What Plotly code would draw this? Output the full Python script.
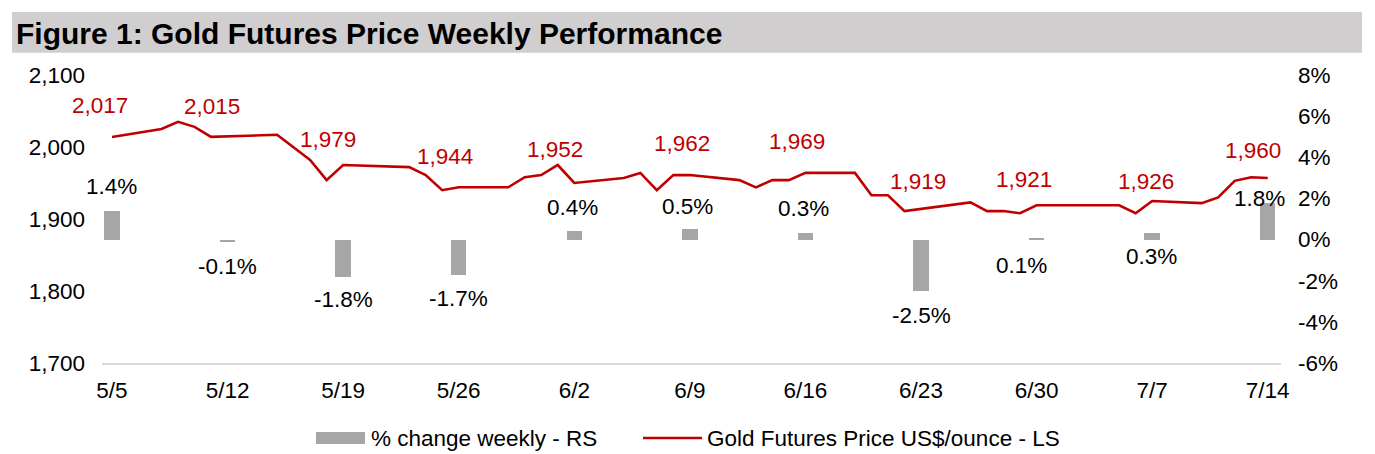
import plotly.graph_objects as go
import pandas as pd

# ---------------- data ----------------
price_dates = [
    "2023-05-05", "2023-05-08", "2023-05-09", "2023-05-10", "2023-05-11",
    "2023-05-15", "2023-05-17", "2023-05-18", "2023-05-19", "2023-05-23",
    "2023-05-24", "2023-05-25", "2023-05-26", "2023-05-29", "2023-05-30",
    "2023-05-31", "2023-06-01", "2023-06-02", "2023-06-05", "2023-06-06",
    "2023-06-07", "2023-06-08", "2023-06-09", "2023-06-12", "2023-06-13",
    "2023-06-14", "2023-06-15", "2023-06-16", "2023-06-19", "2023-06-20",
    "2023-06-21", "2023-06-22", "2023-06-26", "2023-06-27", "2023-06-28",
    "2023-06-29", "2023-06-30", "2023-07-05", "2023-07-06", "2023-07-07",
    "2023-07-10", "2023-07-11", "2023-07-12", "2023-07-13", "2023-07-14",
]
price_values = [
    2014, 2025, 2035, 2028, 2014,
    2017, 1982, 1954, 1975, 1972,
    1961, 1940, 1944, 1944, 1958,
    1961, 1975, 1950, 1957, 1964,
    1940, 1961, 1961, 1954, 1944,
    1954, 1954, 1964, 1964, 1933,
    1933, 1911, 1923, 1911, 1911,
    1908, 1919, 1919, 1908, 1925,
    1922, 1930, 1953, 1958, 1957,
]

week_dates = [
    "2023-05-05", "2023-05-12", "2023-05-19", "2023-05-26", "2023-06-02",
    "2023-06-09", "2023-06-16", "2023-06-23", "2023-06-30", "2023-07-07",
    "2023-07-14",
]
week_labels = ["5/5", "5/12", "5/19", "5/26", "6/2", "6/9", "6/16", "6/23",
               "6/30", "7/7", "7/14"]
weekly_change = [1.4, -0.1, -1.8, -1.7, 0.4, 0.5, 0.3, -2.5, 0.1, 0.3, 1.8]
weekly_price = [2017, 2015, 1979, 1944, 1952, 1962, 1969, 1919, 1921, 1926, 1960]

left_tick_vals = [1700, 1800, 1900, 2000, 2100]
left_tick_text = ["1,700", "1,800", "1,900", "2,000", "2,100"]
right_tick_vals = [-6, -4, -2, 0, 2, 4, 6, 8]
right_tick_text = ["-6%", "-4%", "-2%", "0%", "2%", "4%", "6%", "8%"]

# ---------------- styling ----------------
W, H = 1375, 454
ML, MR, MT, MB = 102, 94, 75, 91
PW, PH = W - ML - MR, H - MT - MB
FONT = "Liberation Sans, Arial, sans-serif"
FS = 22.5
RED = "#c00000"
GREY_BAR = "#a6a6a6"

price_label_dx = [-12, -16, -15, -14, -19, -8, -8, -3, -13, -6, -15]
price_label_dy = [29, 30, 23, 31, 32, 31, 28, 24, 24, 19, 25]
bar_label_dx = [0, 0, 0, 0, -2, -2, -2, 0, -15, -1, -8]
bar_label_dy = [24, -25, -23, -24, 24, 23, 25, -24, -28, -23, 4]


def px2x(px):
    return (px - ML) / PW


def py2y(py):
    return (MT + PH - py) / PH


fig = go.Figure()

fig.add_trace(go.Bar(
    x=pd.to_datetime(week_dates), y=weekly_change, yaxis="y2",
    marker=dict(color=GREY_BAR, line=dict(width=0)),
    width=0.93 * 86400000, name="% change weekly - RS",
    showlegend=False, hoverinfo="skip",
))
fig.add_trace(go.Scatter(
    x=pd.to_datetime(price_dates), y=price_values, yaxis="y",
    mode="lines", line=dict(color=RED, width=2.6),
    name="Gold Futures Price US$/ounce - LS", showlegend=False,
    hoverinfo="skip",
))

annotations = []
for d, v, dx, dy in zip(week_dates, weekly_price, price_label_dx, price_label_dy):
    annotations.append(dict(
        x=pd.Timestamp(d), y=v, xref="x", yref="y", text=f"{v:,}",
        showarrow=False, xanchor="center", yanchor="middle",
        xshift=dx, yshift=dy, font=dict(family=FONT, size=FS, color=RED),
    ))
for d, v, dx, dy in zip(week_dates, weekly_change, bar_label_dx, bar_label_dy):
    annotations.append(dict(
        x=pd.Timestamp(d), y=v, xref="x", yref="y2", text=f"{v:.1f}%",
        showarrow=False, xanchor="center", yanchor="middle",
        xshift=dx, yshift=dy, font=dict(family=FONT, size=FS, color="#000000"),
    ))

# title
annotations.append(dict(
    x=px2x(14), y=py2y(33), xref="paper", yref="paper",
    text="<b>Figure 1: Gold Futures Price Weekly Performance</b>",
    showarrow=False, xanchor="left", yanchor="middle",
    font=dict(family=FONT, size=30, color="#000000"),
))
# legend texts
annotations.append(dict(
    x=px2x(369), y=py2y(438), xref="paper", yref="paper",
    text="% change weekly - RS", showarrow=False, xanchor="left",
    yanchor="middle", font=dict(family=FONT, size=FS, color="#000000"),
))
annotations.append(dict(
    x=px2x(705), y=py2y(438), xref="paper", yref="paper",
    text="Gold Futures Price US$/ounce - LS", showarrow=False, xanchor="left",
    yanchor="middle", font=dict(family=FONT, size=FS, color="#000000"),
))

shapes = [
    dict(type="rect", xref="paper", yref="paper", layer="below",
         x0=px2x(12), x1=px2x(1362), y0=py2y(52.7), y1=py2y(12),
         fillcolor="#d0cece", line=dict(width=0)),
    dict(type="rect", xref="paper", yref="paper",
         x0=px2x(316), x1=px2x(365), y0=py2y(444), y1=py2y(432),
         fillcolor=GREY_BAR, line=dict(width=0)),
    dict(type="line", xref="paper", yref="paper",
         x0=px2x(643), x1=px2x(702), y0=py2y(438), y1=py2y(438),
         line=dict(color=RED, width=2.6)),
]

x_start = pd.Timestamp(week_dates[0]) - pd.Timedelta(hours=14.5)
x_end = pd.Timestamp(week_dates[-1]) + pd.Timedelta(hours=19.3)

fig.update_layout(
    width=W, height=H,
    margin=dict(l=ML, r=MR, t=MT, b=MB, autoexpand=False),
    paper_bgcolor="white", plot_bgcolor="white",
    font=dict(family=FONT, size=FS, color="#000000"),
    showlegend=False, bargap=0,
    xaxis=dict(
        type="date", range=[x_start, x_end],
        tickvals=pd.to_datetime(week_dates), ticktext=week_labels,
        showgrid=False, zeroline=False, showline=True,
        linecolor="#d9d9d9", linewidth=2, ticks="",
        tickfont=dict(family=FONT, size=FS, color="#000000"),
        ticklabelstandoff=6,
    ),
    yaxis=dict(
        range=[1700, 2100], tickvals=left_tick_vals, ticktext=left_tick_text,
        showgrid=False, zeroline=False, showline=False, ticks="",
        tickfont=dict(family=FONT, size=FS, color="#000000"),
        ticklabelstandoff=16,
    ),
    yaxis2=dict(
        range=[-6, 8], tickvals=right_tick_vals, ticktext=right_tick_text,
        overlaying="y", side="right",
        showgrid=False, zeroline=False, showline=False, ticks="",
        tickfont=dict(family=FONT, size=FS, color="#000000"),
        ticklabelstandoff=16,
    ),
    annotations=annotations, shapes=shapes,
)

fig.write_html(
    "out.html",
    config={"displayModeBar": False, "staticPlot": True},
    post_script="document.body.style.margin='0';document.body.style.overflow='hidden';",
)
